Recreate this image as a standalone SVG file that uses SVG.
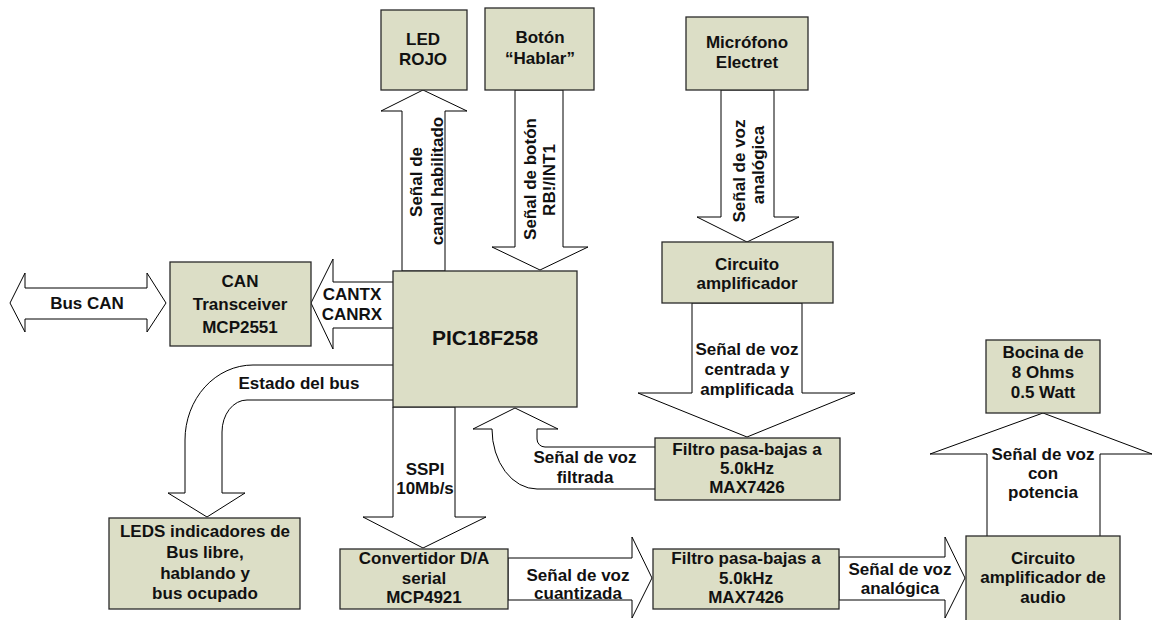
<svg xmlns="http://www.w3.org/2000/svg" width="1152" height="620" viewBox="0 0 1152 620">
<style>
.box{fill:#dcdec6;stroke:#2a2a2a;stroke-width:1.3}
.arr{fill:#ffffff;stroke:#000;stroke-width:1}
text{font-family:"Liberation Sans",Arial,sans-serif;font-weight:bold;font-size:17px;fill:#111;text-anchor:middle}
.big{font-size:21px}
</style>
<rect width="1152" height="620" fill="#fff"/>
<g id="connectors">
<path class="arr" d="M402,271 L402,111 L381,111 L423,90 L467,111 L445,111 L445,271 Z"/>
<path class="arr" d="M515,90 L515,247 L492,247 L540,270 L588,247 L563,247 L563,90 Z"/>
<path class="arr" d="M721,90 L721,217 L697,217 L747,242 L799,217 L774,217 L774,90 Z"/>
<path class="arr" d="M692,303 L692,393 L638,393 L747,437 L855,393 L802,393 L802,303 Z"/>
<path class="arr" d="M655,489 L537,489 A45,60 0 0 1 492,429 L473,429 L515,408 L558,429 L537,429 L537,439 A8,8 0 0 0 545,447 L655,447"/>
<path class="arr" d="M10,303 L25,273 L25,288 L147,288 L147,273 L166,303 L147,332 L147,319 L25,319 L25,332 Z"/>
<path class="arr" d="M393,282 L333,282 L333,259 L311,303 L333,349 L333,328 L393,328"/>
<path class="arr" d="M393,365 L253,365 A68,75 0 0 0 185,440 L185,493 L168,493 L207,517 L245,493 L222,493 L222,432 A25,32 0 0 1 247,400 L393,400"/>
<path class="arr" d="M393,407 L393,517 L363,517 L423,548 L486,517 L455,517 L455,407 Z"/>
<path class="arr" d="M508,558 L632,558 L632,537 L652,578 L632,618 L632,600 L508,600 Z"/>
<path class="arr" d="M839,557 L945,557 L945,537 L965,578 L945,618 L945,600 L839,600 Z"/>
<path class="arr" d="M987,537 L987,454 L930,454 L1043,413 L1152,454 L1100,454 L1100,537 Z"/>
</g>
<g id="led-rojo"><rect class="box" x="381" y="10" width="86" height="80"/><text x="423" y="45">LED</text><text x="423" y="65">ROJO</text></g>
<g id="boton"><rect class="box" x="485" y="8" width="109" height="82"/><text x="540" y="43">Botón</text><text x="540" y="64">“Hablar”</text></g>
<g id="microfono"><rect class="box" x="686" y="17" width="122" height="73"/><text x="747" y="48">Micrófono</text><text x="747" y="68">Electret</text></g>
<g id="circuito-amp"><rect class="box" x="662" y="242" width="171" height="61"/><text x="747" y="270">Circuito</text><text x="747" y="289">amplificador</text></g>
<g id="can"><rect class="box" x="170" y="262" width="141" height="84"/><text x="240" y="287">CAN</text><text x="240" y="310">Transceiver</text><text x="240" y="333">MCP2551</text></g>
<g id="pic"><rect class="box" x="393" y="271" width="184" height="136"/><text class="big" x="485" y="345">PIC18F258</text></g>
<g id="filtro1"><rect class="box" x="655" y="438" width="185" height="62"/><text x="747" y="455">Filtro pasa-bajas a</text><text x="747" y="474">5.0kHz</text><text x="747" y="493">MAX7426</text></g>
<g id="leds"><rect class="box" x="109" y="518" width="191" height="91"/><text x="205" y="537">LEDS indicadores de</text><text x="205" y="558">Bus libre,</text><text x="205" y="579">hablando y</text><text x="205" y="599">bus ocupado</text></g>
<g id="convertidor"><rect class="box" x="340" y="549" width="168" height="60"/><text x="424" y="564">Convertidor D/A</text><text x="424" y="584">serial</text><text x="424" y="603">MCP4921</text></g>
<g id="filtro2"><rect class="box" x="653" y="549" width="186" height="60"/><text x="746" y="564">Filtro pasa-bajas a</text><text x="746" y="584">5.0kHz</text><text x="746" y="603">MAX7426</text></g>
<g id="circuito-audio"><rect class="box" x="966" y="536" width="154" height="94"/><text x="1043" y="564">Circuito</text><text x="1043" y="583">amplificador de</text><text x="1043" y="603">audio</text></g>
<g id="bocina"><rect class="box" x="986" y="340" width="114" height="73"/><text x="1043" y="358">Bocina de</text><text x="1043" y="378">8 Ohms</text><text x="1043" y="398">0.5 Watt</text></g>
<g id="labels">
<text transform="translate(422,182) rotate(-90)">Señal de</text>
<text transform="translate(443,181) rotate(-90)">canal habilitado</text>
<text transform="translate(536,179) rotate(-90)">Señal de botón</text>
<text transform="translate(555,180) rotate(-90)">RB!/INT1</text>
<text transform="translate(745,171) rotate(-90)">Señal de voz</text>
<text transform="translate(764,165) rotate(-90)">analógica</text>
<text x="87" y="309">Bus CAN</text>
<text x="352" y="300">CANTX</text>
<text x="352" y="320">CANRX</text>
<text x="299" y="389">Estado del bus</text>
<text x="747" y="355">Señal de voz</text>
<text x="747" y="375">centrada y</text>
<text x="747" y="395">amplificada</text>
<text x="585" y="463">Señal de voz</text>
<text x="585" y="483">filtrada</text>
<text x="425" y="475">SSPI</text>
<text x="425" y="494">10Mb/s</text>
<text x="578" y="581">Señal de voz</text>
<text x="578" y="599">cuantizada</text>
<text x="900" y="575">Señal de voz</text>
<text x="900" y="594">analógica</text>
<text x="1043" y="460">Señal de voz</text>
<text x="1043" y="479">con</text>
<text x="1043" y="498">potencia</text>
</g>
</svg>
